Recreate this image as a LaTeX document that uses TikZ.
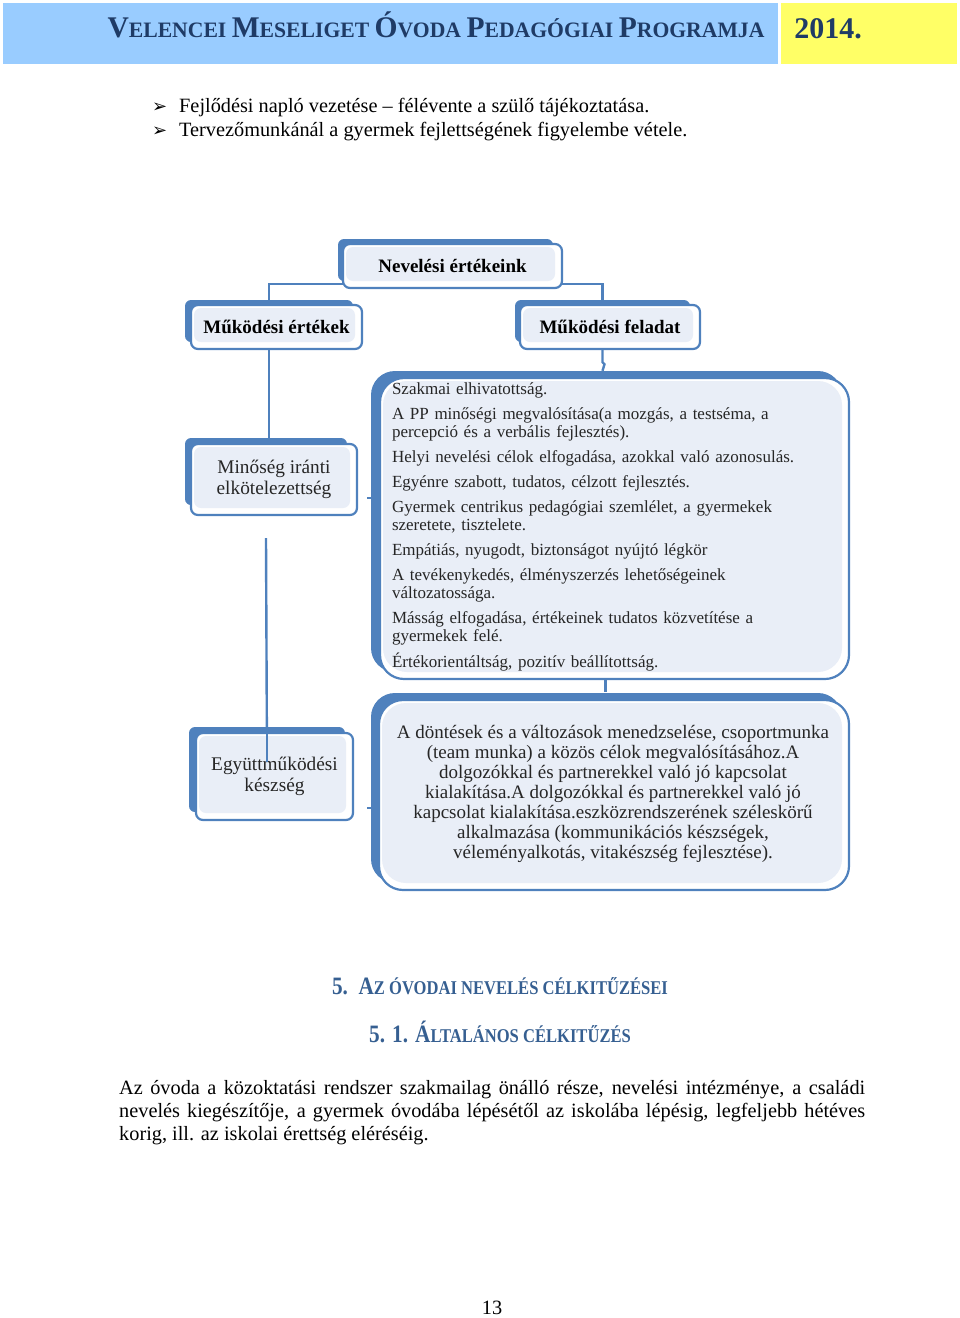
\documentclass[tikz,border=0pt]{standalone}
\usepackage{fontspec}
\setmainfont{Liberation Serif}
\newfontfamily\symfont{DejaVu Sans}
\usetikzlibrary{positioning}
\definecolor{hdrblue}{HTML}{99CCFF}
\definecolor{hdryellow}{HTML}{FFFF66}
\definecolor{hdrtext}{HTML}{1F3B66}
\definecolor{boxblue}{HTML}{4F81BD}
\definecolor{boxfill}{HTML}{E9EEF7}
\definecolor{headblue}{HTML}{365F91}
\newcommand\capbig[1]{{\fontsize{30}{30}\selectfont #1}}
\newcommand\headbig[1]{{\fontsize{25}{25}\selectfont #1}}
\begin{document}
\begin{tikzpicture}[x=1pt, y=-1pt,
  backbox/.style={fill=boxblue, rounded corners=6pt, inner sep=0pt},
  frontbox/.style={fill=white, draw=boxblue, line width=2.2pt, rounded corners=7pt, inner sep=0pt,
    path picture={\fill[boxfill] ([shift={(3pt,-3pt)}]path picture bounding box.north west)
      rectangle ([shift={(-7pt,7pt)}]path picture bounding box.south east);}},
  bigbox/.style={frontbox, rounded corners=24pt},
  bigback/.style={backbox, rounded corners=24pt},
  conn/.style={draw=boxblue, line width=2.4pt},
  titletext/.style={font=\fontsize{19}{20}\selectfont\bfseries},
  plaintext/.style={font=\fontsize{19.3}{21}\selectfont, text=black!85, align=center},
  bodytext/.style={font=\fontsize{20.3}{23.5}\selectfont, inner sep=0pt},
  headtext/.style={anchor=base, text=headblue, font=\fontsize{19.5}{20}\selectfont\bfseries, xscale=0.85}]
\useasboundingbox (0,0) rectangle (960,1318);

\fill[hdrblue] (3,3) rectangle (778,64);
\fill[hdryellow] (781,3) rectangle (957,64);
\node[anchor=base, text=hdrtext, font=\fontsize{22}{22}\selectfont\bfseries, xscale=0.985] (hdr) at (436,37)
  {\capbig{V}ELENCEI \capbig{M}ESELIGET \capbig{Ó}VODA \capbig{P}EDAGÓGIAI \capbig{P}ROGRAMJA};
\node[anchor=base, text=hdrtext, font=\fontsize{30}{30}\selectfont\bfseries] (year) at (828,38) {2014.};

\node[bodytext, anchor=base west] (b1) at (179,112) {\llap{{\symfont\fontsize{18}{18}\selectfont ➢}\hspace{12pt}}Fejlődési napló vezetése – félévente a szülő tájékoztatása.};
\node[bodytext, anchor=base west] (b2) at (179,136) {\llap{{\symfont\fontsize{18}{18}\selectfont ➢}\hspace{12pt}}Tervezőmunkánál a gyermek fejlettségének figyelembe vétele.};

\node[backbox, minimum width=215pt, minimum height=42pt] (nevback) at (445.5,260) {};
\node[backbox, minimum width=168pt, minimum height=42pt] (mertback) at (269,321) {};
\node[backbox, minimum width=175pt, minimum height=42pt] (mfelback) at (602.5,321) {};
\node[backbox, minimum width=162pt, minimum height=67pt] (minback) at (266,471.5) {};
\node[backbox, minimum width=156pt, minimum height=85pt] (egyback) at (267,769.5) {};
\node[bigback, minimum width=471pt, minimum height=301pt] (szakback) at (606.5,521.5) {};
\node[bigback, minimum width=471pt, minimum height=190pt] (dontback) at (606.5,788) {};

\coordinate (egyend) at (267,762);
\coordinate (stubA) at (367,498);
\coordinate (stubB) at (367,808);
\draw[conn] (mertback.north) |- ([yshift=-3pt]nevback.south -| nevback.center) -| (mfelback.north);
\draw[conn] (mertback.south) -- (mertback.south |- minback.north);
\draw[conn] (mfelback.south) -- ++(0,20) -- ++(2,2) -- (mfelback.south |- szakback.north);
\draw[conn] ([yshift=-33pt]minback.south) -- (egyend);
\draw[conn] ([xshift=-1pt]szakback.south) -- ++(0,20);

\node[frontbox, minimum width=219pt, minimum height=44pt, titletext] (nev) at (452.5,266) {Nevelési értékeink};
\node[frontbox, minimum width=171pt, minimum height=44pt, titletext] (mert) at (276.5,327) {Működési értékek};
\node[frontbox, minimum width=180pt, minimum height=44pt, titletext] (mfel) at (610,327) {Működési feladat};
\node[frontbox, minimum width=166pt, minimum height=71pt, plaintext] (min) at (274,479.5) {Minőség iránti\\elkötelezettség};
\node[frontbox, minimum width=157pt, minimum height=87pt, plaintext] (egy) at (274.5,776.5) {Együttműködési\\készség};
\draw[conn] (egy.north -| egyend) -- (egyend);
\node[bigbox, minimum width=469pt, minimum height=301pt] (szak) at (614.5,528.5) {};
\node[bigbox, minimum width=470pt, minimum height=190pt] (dont) at (614,795) {};
\draw[conn, line width=1.6pt] (stubA) -- (stubA -| szakback.west);
\draw[conn, line width=1.2pt] (stubB) -- (stubB -| dontback.west);

\node[font=\fontsize{17}{18}\selectfont, text=black!85, align=left, text width=445pt, inner sep=0pt] (szaktext) at (614.5,527)
  {Szakmai elhivatottság.\\[7pt]
   A PP minőségi megvalósítása(a mozgás, a testséma, a\\percepció és a verbális fejlesztés).\\[7pt]
   Helyi nevelési célok elfogadása, azokkal való azonosulás.\\[7pt]
   Egyénre szabott, tudatos, célzott fejlesztés.\\[7pt]
   Gyermek centrikus pedagógiai szemlélet, a gyermekek\\szeretete, tisztelete.\\[7pt]
   Empátiás, nyugodt, biztonságot nyújtó légkör\\[7pt]
   A tevékenykedés, élményszerzés lehetőségeinek\\változatossága.\\[7pt]
   Másság elfogadása, értékeinek tudatos közvetítése a\\gyermekek felé.\\[7pt]
   Értékorientáltság, pozitív beállítottság.};
\node[font=\fontsize{19}{20}\selectfont, text=black!85, align=center, inner sep=0pt] (donttext) at (613,794)
  {A döntések és a változások menedzselése, csoportmunka\\
   (team munka) a közös célok megvalósításához.A\\
   dolgozókkal és partnerekkel való jó kapcsolat\\
   kialakítása.A dolgozókkal és partnerekkel való jó\\
   kapcsolat kialakítása.eszközrendszerének széleskörű\\
   alkalmazása (kommunikációs készségek,\\
   véleményalkotás, vitakészség fejlesztése).};

\node[headtext] (h1) at (500,994) {\headbig{5.\ \ A}Z ÓVODAI NEVELÉS CÉLKITŰZÉSEI};
\node[headtext] (h2) at (500,1042) {\headbig{5. 1. Á}LTALÁNOS CÉLKITŰZÉS};

\node[bodytext, anchor=base west] (p1) at (119,1094) {\makebox[746pt][s]{Az óvoda a közoktatási rendszer szakmailag önálló része, nevelési intézménye, a családi}};
\node[bodytext, anchor=base west] (p2) at (119,1117) {\makebox[746pt][s]{nevelés kiegészítője, a gyermek óvodába lépésétől az iskolába lépésig, legfeljebb hétéves}};
\node[bodytext, anchor=base west] (p3) at (119,1140) {korig, ill. az iskolai érettség eléréséig.};
\node[bodytext, anchor=base] (pagenum) at (492,1314) {13};
\end{tikzpicture}
\end{document}
